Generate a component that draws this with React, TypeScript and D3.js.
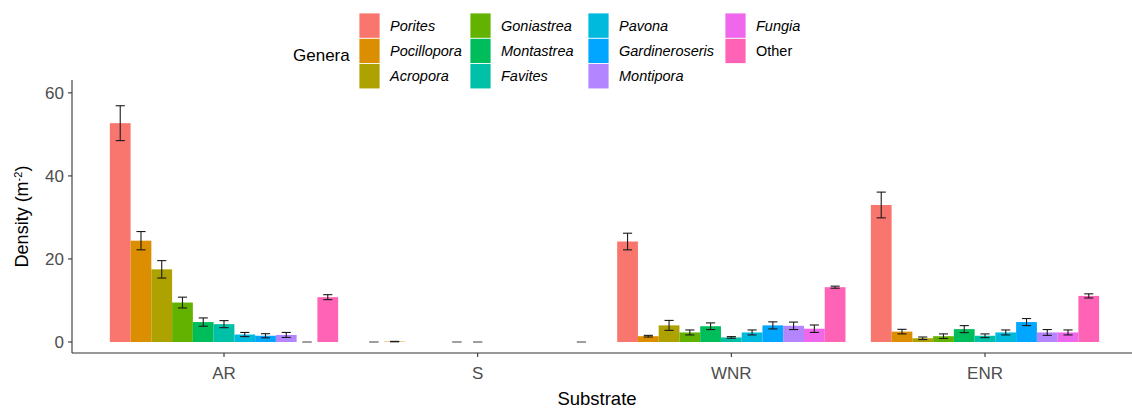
import React from "react";
import * as d3 from "d3";

// Substrate categories on the x axis
const substrates = ["AR", "S", "WNR", "ENR"];

// Coral genera (fill groups)
const genera = [
  "Porites",
  "Pocillopora",
  "Acropora",
  "Goniastrea",
  "Montastrea",
  "Favites",
  "Pavona",
  "Gardineroseris",
  "Montipora",
  "Fungia",
  "Other",
];

const generaColors = [
  "#F8766D",
  "#DB8E00",
  "#AEA200",
  "#64B200",
  "#00BD5C",
  "#00C1A7",
  "#00BADE",
  "#00A6FF",
  "#B385FF",
  "#EF67EB",
  "#FF63B6",
];

// Mean density (m^-2) per genus, one array per substrate; null = genus absent
const meanAR = [52.7, 24.4, 17.5, 9.5, 4.8, 4.3, 1.8, 1.5, 1.7, 0, 10.8];
const meanS = [0, 0.1, null, null, 0, 0, null, null, null, null, 0];
const meanWNR = [24.2, 1.4, 4.0, 2.3, 3.8, 1.1, 2.3, 4.0, 3.9, 3.2, 13.2];
const meanENR = [33.0, 2.5, 0.9, 1.4, 3.1, 1.5, 2.3, 4.8, 2.3, 2.3, 11.1];

// Standard errors
const seAR = [4.2, 2.2, 2.1, 1.3, 1.0, 0.85, 0.5, 0.5, 0.6, 0, 0.6];
const seS = [0, 0.05, null, null, 0, 0, null, null, null, null, 0];
const seWNR = [2.0, 0.2, 1.2, 0.6, 0.8, 0.2, 0.6, 0.85, 0.9, 0.9, 0.25];
const seENR = [3.1, 0.55, 0.3, 0.55, 0.85, 0.45, 0.6, 0.85, 0.7, 0.6, 0.5];

const yTicks = [0, 20, 40, 60];

const means = [meanAR, meanS, meanWNR, meanENR];
const ses = [seAR, seS, seWNR, seENR];

const W = 1132;
const H = 408;
const FONT = "'Liberation Sans', Arial, Helvetica, sans-serif";

export default function App() {
  const panel = { left: 72, top: 80, bottom: 353, right: 1137 };

  const x = d3.scalePoint<string>().domain(substrates).range([224, 985]);
  const step = x.step();
  const groupW = step * 0.9;
  const inner = d3.scaleBand<string>().domain(genera).range([-groupW / 2, groupW / 2]);
  const bw = inner.bandwidth();
  const capHalf = bw * 0.22;

  const y = d3.scaleLinear().domain([-2.65, 63.1]).range([panel.bottom, panel.top]);

  const rows = substrates.flatMap((s, si) =>
    genera.map((g, gi) => ({
      s,
      g,
      gi,
      mean: means[si][gi],
      se: ses[si][gi],
    }))
  ).filter((d) => d.mean !== null);

  // legend layout
  const legCols = [359, 470, 588, 725];
  const legRowTop = 13;
  const keyW = 21;
  const keyH = 25.3;

  return (
    <svg width={W} height={H} style={{ position: "absolute", left: 0, top: 0, background: "#fff" }}>
      <rect x={0} y={0} width={W} height={H} fill="#fff" />

      {/* bars */}
      {rows.map((d) => {
        const cx = (x(d.s) as number) + (inner(d.g) as number);
        const y0 = y(0);
        const y1 = y(d.mean as number);
        if ((d.mean as number) <= 0) return null;
        return (
          <rect
            key={`b-${d.s}-${d.g}`}
            x={cx}
            y={y1}
            width={bw}
            height={y0 - y1}
            fill={generaColors[d.gi]}
          />
        );
      })}

      {/* error bars */}
      {rows.map((d) => {
        const cx = (x(d.s) as number) + (inner(d.g) as number) + bw / 2;
        const m = d.mean as number;
        const e = d.se as number;
        const lo = y(m - e);
        const hi = y(m + e);
        const zero = m === 0 && e === 0;
        const stroke = zero ? "#9a9a9a" : "#1a1a1a";
        return (
          <g key={`e-${d.s}-${d.g}`} stroke={stroke} strokeWidth={zero ? 1.6 : 1.1} fill="none">
            <line x1={cx - capHalf} x2={cx + capHalf} y1={hi} y2={hi} />
            <line x1={cx - capHalf} x2={cx + capHalf} y1={lo} y2={lo} />
            {!zero && <line x1={cx} x2={cx} y1={hi} y2={lo} />}
          </g>
        );
      })}

      {/* axes */}
      <line x1={panel.left} x2={panel.left} y1={panel.top} y2={panel.bottom} stroke="#333" strokeWidth={1.1} />
      <line x1={panel.left} x2={panel.right} y1={panel.bottom} y2={panel.bottom} stroke="#333" strokeWidth={1.1} />

      {yTicks.map((t) => (
        <g key={`yt-${t}`}>
          <line x1={panel.left - 4} x2={panel.left} y1={y(t)} y2={y(t)} stroke="#333" strokeWidth={1.1} />
          <text
            x={panel.left - 8}
            y={y(t)}
            dy="0.36em"
            textAnchor="end"
            fontFamily={FONT}
            fontSize={17}
            fill="#4D4D4D"
          >
            {t}
          </text>
        </g>
      ))}

      {substrates.map((s) => (
        <g key={`xt-${s}`}>
          <line x1={x(s)} x2={x(s)} y1={panel.bottom} y2={panel.bottom + 4} stroke="#333" strokeWidth={1.1} />
          <text
            x={x(s)}
            y={panel.bottom + 20}
            dy="0.36em"
            textAnchor="middle"
            fontFamily={FONT}
            fontSize={17}
            fill="#4D4D4D"
          >
            {s}
          </text>
        </g>
      ))}

      {/* axis titles */}
      <text x={597} y={398} dy="0.36em" textAnchor="middle" fontFamily={FONT} fontSize={18.5} fill="#000">
        Substrate
      </text>
      <text
        transform={`translate(22, ${(panel.top + panel.bottom) / 2}) rotate(-90)`}
        textAnchor="middle"
        dy="0.36em"
        fontFamily={FONT}
        fontSize={18}
        fill="#000"
      >
        Density (m
        <tspan baselineShift="super" fontSize={11}>-2</tspan>
        )
      </text>

      {/* legend */}
      <text x={293} y={55} dy="0.36em" fontFamily={FONT} fontSize={17} fill="#000">
        Genera
      </text>
      {genera.map((g, i) => {
        const col = Math.floor(i / 3);
        const row = i % 3;
        const kx = legCols[col];
        const ky = legRowTop + row * keyH;
        return (
          <g key={`lg-${g}`}>
            <rect x={kx} y={ky} width={keyW} height={keyH} fill={generaColors[i]} stroke="#fff" strokeWidth={0.8} />
            <text
              x={kx + keyW + 10}
              y={ky + keyH / 2}
              dy="0.36em"
              fontFamily={FONT}
              fontSize={14.5}
              fontStyle={g === "Other" ? "normal" : "italic"}
              fill="#000"
            >
              {g}
            </text>
          </g>
        );
      })}
    </svg>
  );
}
